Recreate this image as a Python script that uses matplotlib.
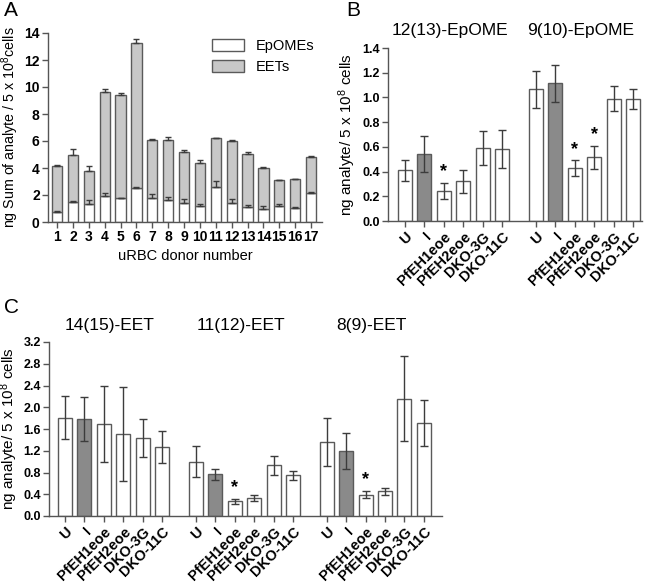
import matplotlib
matplotlib.use("Agg")
import matplotlib.pyplot as plt
from matplotlib.patches import Patch
import numpy as np

plt.rcParams.update({
    "font.family": ["Liberation Sans", "DejaVu Sans"],
    "mathtext.default": "regular",
    "axes.linewidth": 1.0,
    "axes.edgecolor": "#555555",
    "xtick.color": "#555555",
    "ytick.color": "#555555",
    "xtick.labelcolor": "black",
    "ytick.labelcolor": "black",
})

# ---- Panel A data: stacked totals per donor ----
donors = [str(i) for i in range(1, 18)]
epome = [0.75, 1.5, 1.35, 1.95, 1.75, 2.55, 1.8, 1.6, 1.4, 1.15, 2.6, 1.4, 1.1, 1.0, 1.2, 1.05, 2.15]
epome_err = [0.1, 0.08, 0.28, 0.2, 0.02, 0.04, 0.25, 0.28, 0.28, 0.15, 0.42, 0.28, 0.15, 0.15, 0.15, 0.03, 0.04]
total = [4.15, 5.0, 3.8, 9.6, 9.4, 13.25, 6.05, 6.05, 5.2, 4.4, 6.2, 6.0, 5.05, 4.0, 3.1, 3.15, 4.85]
total_err = [0.08, 0.4, 0.38, 0.25, 0.15, 0.28, 0.08, 0.28, 0.15, 0.22, 0.03, 0.1, 0.15, 0.08, 0.03, 0.03, 0.04]

# ---- Panels B and C: per-strain means and SEM ----
strains = ["U", "I", "PfEH1eoe", "PfEH2eoe", "DKO-3G", "DKO-11C"]

b_titles = ["12(13)-EpOME", "9(10)-EpOME"]
b_means = [
    [0.41, 0.545, 0.245, 0.32, 0.59, 0.585],
    [1.065, 1.115, 0.43, 0.515, 0.99, 0.985],
]
b_errs = [
    [0.085, 0.145, 0.065, 0.09, 0.14, 0.155],
    [0.148, 0.15, 0.063, 0.092, 0.1, 0.08],
]
b_stars = [[2], [2, 3]]

c_titles = ["14(15)-EET", "11(12)-EET", "8(9)-EET"]
c_means = [
    [1.81, 1.78, 1.70, 1.51, 1.43, 1.27],
    [1.0, 0.77, 0.27, 0.325, 0.93, 0.75],
    [1.36, 1.20, 0.39, 0.455, 2.16, 1.71],
]
c_errs = [
    [0.40, 0.40, 0.70, 0.86, 0.35, 0.30],
    [0.28, 0.10, 0.05, 0.055, 0.17, 0.08],
    [0.44, 0.33, 0.065, 0.065, 0.78, 0.42],
]
c_stars = [[], [2], [2]]

EDGE = "#5a5a5a"
ERR = "#3c3c3c"
LIGHT = "#c8c8c8"
DARK = "#8a8a8a"

fig = plt.figure(figsize=(6.5, 5.83), dpi=100)
W, H = 650.0, 583.0


def px_axes(x0, x1, y_top, y_bot):
    return fig.add_axes([x0 / W, 1 - y_bot / H, (x1 - x0) / W, (y_bot - y_top) / H])


def style(ax):
    ax.spines["top"].set_visible(False)
    ax.spines["right"].set_visible(False)
    ax.tick_params(axis="both", length=4, width=1.0, pad=2)


# ---------------- Panel A ----------------
axA = px_axes(48, 322, 33, 222)
x = np.arange(1, 18)
axA.bar(x, epome, width=0.65, color="white", edgecolor=EDGE, linewidth=1.0, zorder=2)
axA.bar(x, np.array(total) - np.array(epome), bottom=epome, width=0.65,
        color=LIGHT, edgecolor=EDGE, linewidth=1.0, zorder=2)
axA.errorbar(x, total, yerr=[np.zeros(17), total_err], fmt="none", ecolor=ERR,
             elinewidth=1.0, capsize=2.5, capthick=1.0, zorder=3)
axA.errorbar(x, epome, yerr=[np.zeros(17), epome_err], fmt="none", ecolor=ERR,
             elinewidth=1.0, capsize=2.5, capthick=1.0, zorder=3)
axA.set_xlim(0.43, 17.69)
axA.set_ylim(0, 14)
axA.set_yticks(np.arange(0, 15, 2))
axA.set_xticks(x)
axA.set_xticklabels(donors)
style(axA)
for lab in axA.get_xticklabels() + axA.get_yticklabels():
    lab.set_fontweight("bold")
    lab.set_fontsize(10)
axA.set_xlabel("uRBC donor number", fontsize=10.5, labelpad=3)
axA.set_ylabel("ng Sum of analyte / 5 x 10$^{8}$cells", fontsize=10.3, labelpad=2)
axA.legend(handles=[Patch(facecolor="white", edgecolor=EDGE, label="EpOMEs"),
                    Patch(facecolor=LIGHT, edgecolor=EDGE, label="EETs")],
           loc="upper right", bbox_to_anchor=(1.02, 1.04), frameon=False,
           fontsize=10.5, handlelength=2.2, handleheight=0.9)


def grouped(ax, means, errs, stars, titles, gap, title_y, star_pad):
    colors = ["white", DARK, "white", "white", "white", "white"]
    ticks, labels = [], []
    for g, (m, e) in enumerate(zip(means, errs)):
        pos = np.arange(6) + g * gap
        ax.bar(pos, m, width=0.72, color=colors, edgecolor=EDGE, linewidth=1.0, zorder=2)
        ax.errorbar(pos, m, yerr=e, fmt="none", ecolor=ERR, elinewidth=1.0,
                    capsize=3, capthick=1.0, zorder=3)
        for s in stars[g]:
            ax.text(pos[s], m[s] + e[s] + star_pad, "*", ha="center", va="bottom",
                    fontsize=13, fontweight="bold")
        ax.text(pos[2] + 0.3, title_y, titles[g], ha="center", va="center",
                fontsize=12.5, clip_on=False)
        ticks.extend(pos)
        labels.extend(strains)
    style(ax)
    ax.set_xticks(ticks)
    ax.set_xticklabels(labels, rotation=45, ha="right", rotation_mode="anchor",
                       fontweight="bold", fontsize=10.5)
    for lab in ax.get_yticklabels():
        lab.set_fontweight("bold")
        lab.set_fontsize(9)


# ---------------- Panel B ----------------
axB = px_axes(388, 642, 48, 221)
axB.set_ylim(0, 1.4)
axB.set_yticks(np.arange(0, 1.41, 0.2))
axB.set_yticklabels([f"{v:.1f}" for v in np.arange(0, 1.41, 0.2)])
grouped(axB, b_means, b_errs, b_stars, b_titles, 6.7, 1.545, 0.02)
axB.set_xlim(-0.87, 12.16)
axB.set_ylabel("ng analyte/ 5 x 10$^{8}$ cells", fontsize=11, labelpad=3)

# ---------------- Panel C ----------------
axC = px_axes(49, 442, 342, 516)
axC.set_ylim(0, 3.2)
axC.set_yticks(np.arange(0, 3.21, 0.4))
axC.set_yticklabels([f"{v:.1f}" for v in np.arange(0, 3.21, 0.4)])
grouped(axC, c_means, c_errs, c_stars, c_titles, 6.73, 3.51, 0.05)
axC.set_xlim(-0.82, 19.39)
axC.set_ylabel("ng analyte/ 5 x 10$^{8}$ cells", fontsize=11, labelpad=2)

# panel letters
fig.text(4 / W, 1 - 1 / H, "A", fontsize=15, va="top", ha="left")
fig.text(346 / W, 1 - 1 / H, "B", fontsize=15, va="top", ha="left")
fig.text(4 / W, 1 - 298 / H, "C", fontsize=15, va="top", ha="left")

fig.savefig("out.png", dpi=100)
